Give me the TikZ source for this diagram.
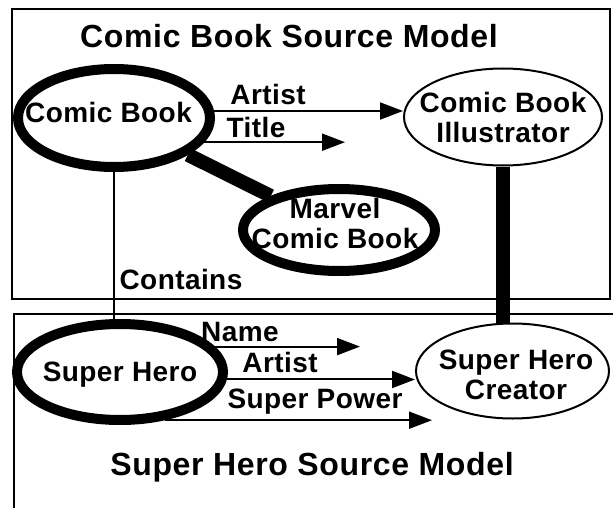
\documentclass[tikz,border=0pt]{standalone}
\usepackage{fontspec}
\setmainfont{Liberation Sans}
\newfontfamily\lblfont{Liberation Sans}[LetterSpace=1.5]
\newfontfamily\ttlfont{Liberation Sans}[LetterSpace=2]
\usetikzlibrary{shapes.geometric,arrows.meta}
\pgfdeclarelayer{bg}
\pgfsetlayers{bg,main}
\tikzset{
  lbl/.style={font=\lblfont\bfseries\fontsize{28}{30}\selectfont, inner sep=0pt, align=center},
  ttl/.style={font=\ttlfont\bfseries\fontsize{32}{36}\selectfont, inner sep=0pt, anchor=base},
  edgelbl/.style={lbl, anchor=base},
  frame/.style={draw, line width=2pt},
  thickell/.style={ellipse, draw, line width=10pt, fill=white, inner sep=0pt},
  thinell/.style={ellipse, draw, line width=2pt, fill=white, inner sep=0pt},
  arr/.style={line width=2pt, -{Triangle[length=23pt,width=17pt]}},
  thinline/.style={line width=2pt},
  heavy/.style={line width=14pt},
}
\begin{document}
\begin{tikzpicture}[x=1pt,y=-1pt]
\useasboundingbox (0,0) rectangle (613,508);
\clip (0,0) rectangle (613,508);
% frames
\draw[frame] (12,9) rectangle (610,299);
\draw[frame] (14,314) rectangle (630,530);
% titles
\node[ttl] (t1) at (289,48) {Comic Book Source Model};
\node[ttl] (t2) at (312,475) {Super Hero Source Model};
% classes
\node[thickell, minimum width=192pt, minimum height=98pt,
      label={[lbl,xshift=-5.5pt,yshift=6pt]center:Comic Book}] (cb) at (114,118) {};
\node[thinell, minimum width=198pt, minimum height=97pt,
      label={[lbl]center:Comic Book\\Illustrator}] (ill) at (503,117) {};
\node[thickell, minimum width=192pt, minimum height=82pt,
      label={[lbl,xshift=-4pt,yshift=7pt]center:Marvel\\Comic Book}] (mv) at (339,230) {};
\node[thickell, minimum width=206pt, minimum height=96pt,
      label={[lbl,yshift=-3pt]center:Super Hero}] (sh) at (120,372) {};
\node[thinell, minimum width=193pt, minimum height=95pt,
      label={[lbl,xshift=3.5pt,yshift=-4pt]center:Super Hero\\Creator}] (shc) at (512.5,371) {};
% heavy links and containment, behind the ellipses
\begin{pgfonlayer}{bg}
\draw[heavy] (cb) -- (mv);
\draw[heavy] (ill.south) -- (ill.south |- shc.north);
\draw[thinline] (cb.south) -- (cb.south |- sh.north);
\end{pgfonlayer}
% attribute arrows
\coordinate (p1) at (cb.4);
\coordinate (p2) at (cb.-15);
\coordinate (p3) at (sh.15);
\coordinate (p4) at (sh.-4);
\coordinate (p5) at (sh.-47);
\coordinate (ttlend) at (345,142);
\coordinate (nmend) at (360,347);
\coordinate (spend) at (432,420);
\draw[arr] (p1) -- (p1 -| ill.west);
\draw[arr] (p2) -- (p2 -| ttlend);
\draw[arr] (p3) -- (p3 -| nmend);
\draw[arr] (p4) -- (p4 -| shc.west);
\draw[arr] (p5) -- (p5 -| spend);
% labels
\node[edgelbl] (lartist1) at (268,104.5) {Artist};
\node[edgelbl] (ltitle) at (256,137.5) {Title};
\node[edgelbl] (lcontains) at (181,289) {Contains};
\node[edgelbl] (lname) at (240,341) {Name};
\node[edgelbl] (lartist2) at (280,372.5) {Artist};
\node[edgelbl] (lpower) at (315,408.5) {Super Power};
\end{tikzpicture}
\end{document}
